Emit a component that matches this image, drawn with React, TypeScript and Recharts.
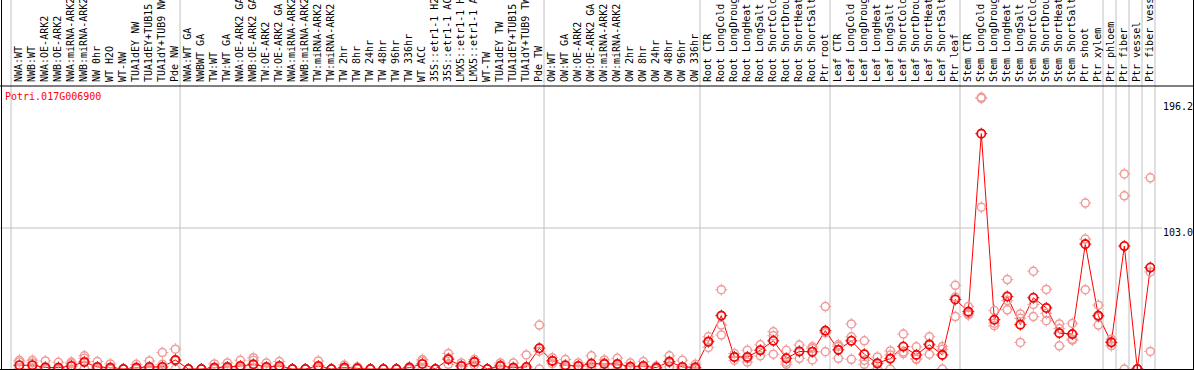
import React from "react"
import { ComposedChart, Line, XAxis, YAxis, ReferenceLine } from "recharts"

const CATEGORIES = [
  "NWA:WT", "NWB:WT", "NWA:OE-ARK2", "NWB:OE-ARK2", "NWA:miRNA-ARK2", "NWB:miRNA-ARK2",
  "NW 0hr", "WT H2O", "WT-NW", "TUA1dEY NW", "TUA1dEY+TUB15 NW", "TUA1dY+TUB9 NW", "Pde NW",
  "NWA:WT GA", "NWBWT GA", "TW:WT", "TW:WT GA", "NWA:OE-ARK2 GA", "NWB:OE-ARK2 GA",
  "TW:OE-ARK2", "TW:OE-ARK2 GA", "NWA:miRNA-ARK2 GA", "NWB:miRNA-ARK2 GA", "TW:miRNA-ARK2",
  "TW:miRNA-ARK2 GA", "TW 2hr", "TW 8hr", "TW 24hr", "TW 48hr", "TW 96hr", "TW 336hr", "WT ACC",
  "35S::etr1-1 H2O", "35S::etr1-1 ACC", "LMX5::etr1-1 H2O", "LMX5::etr1-1 ACC", "WT-TW",
  "TUA1dEY TW", "TUA1dEY+TUB15 TW", "TUA1dY+TUB9 TW", "Pde TW",
  "OW:WT", "OW:WT GA", "OW:OE-ARK2", "OW:OE-ARK2 GA", "OW:miRNA-ARK2", "OW:miRNA-ARK2 GA",
  "OW 2hr", "OW 8hr", "OW 24hr", "OW 48hr", "OW 96hr", "OW 336hr",
  "Root CTR", "Root LongCold", "Root LongDrought", "Root LongHeat", "Root LongSalt",
  "Root ShortCold", "Root ShortDrought", "Root ShortHeat", "Root ShortSalt", "Ptr root",
  "Leaf CTR", "Leaf LongCold", "Leaf LongDrought", "Leaf LongHeat", "Leaf LongSalt",
  "Leaf ShortCold", "Leaf ShortDrought", "Leaf ShortHeat", "Leaf ShortSalt", "Ptr leaf",
  "Stem CTR", "Stem LongCold", "Stem LongDrought", "Stem LongHeat", "Stem LongSalt",
  "Stem ShortCold", "Stem ShortDrought", "Stem ShortHeat", "Stem ShortSalt", "Ptr shoot",
  "Ptr xylem", "Ptr phloem", "Ptr fiber", "Ptr vessel", "Ptr fiber vessel",
]

// mean expression (dark circles joined by the line)
const MEAN = [
  2.7, 2.7, 1.2, 1.0, 2.2, 5.1, 1.5, 1.0, 0, 1.0, 1.5, 1.5, 6.6,
  0, 0, 1.0, 1.5, 2.2, 3.4, 1.5, 2.2, 0, 0, 2.2, 0, 1.0, 0.5, 0, 0, 0, 1.0, 3.7, 0, 7.1, 2.2, 5.1, 0, 2.2, 1.0, 1.5, 15.2,
  5.9, 2.7, 2.2, 3.9, 3.7, 3.7, 1.7, 2.2, 1.0, 5.4, 1.5, 1.2,
  19.9, 39.0, 8.8, 8.8, 13.7, 20.6, 7.8, 12.8, 12.6, 28.0,
  14.0, 20.6, 10.8, 4.2, 7.6, 16.4, 10.3, 17.7, 10.3, 50.8,
  41.9, 171.9, 36.0, 53.0, 32.4, 52.0, 44.6, 26.2, 25.5, 91.2, 39.0,
  19.4, 89.8, 0, 74.1,
]

// replicates (light circles)
const REP_A = [
  6.4, 6.4, 5.9, 4.9, 5.1, 9.6, 5.4, 3.7, 0, 3.4, 5.9, 12.0, 14.5,
  0, 0, 3.7, 4.4, 6.4, 8.3, 4.4, 5.4, 0, 0, 5.9, 0, 2.9, 1.5, 0, 0, 0, 1.5, 6.9, 0, 11.3, 4.4, 6.9, 0, 4.4, 4.4, 10.3, 32.1,
  8.3, 6.9, 4.4, 9.6, 6.6, 7.8, 4.4, 5.4, 2.2, 9.6, 6.4, 3.4,
  23.5, 57.9, 11.3, 13.7, 17.7, 27.2, 13.7, 17.5, 16.2, 45.6,
  17.7, 32.9, 20.6, 8.8, 13.2, 25.5, 16.2, 23.5, 16.4, 61.1,
  45.6, 198.4, 42.7, 65.3, 40.2, 71.4, 58.1, 32.9, 33.3, 121.2, 46.6,
  21.8, 142.5, 0, 139.6,
]
const REP_B = [
  5.2, 4.6, 0.5, 0, 4.0, 7.8, 0.5, 0, 0, 0.5, 0, 3.4, 6.0,
  0, 0, 0, 0.5, 1.0, 6.4, 0.5, 1.0, 0, 0, 1.0, 0, 0.5, 0, 0, 0, 0, 1.0, 5.9, 0, 8.0, 2.0, 5.5, 0, 3.0, 0, 0, 13.0,
  6.0, 1.5, 2.0, 2.0, 4.5, 3.0, 0.5, 1.0, 0.5, 5.0, 0, 0.5,
  20.5, 32.1, 8.8, 7.5, 13.7, 24.3, 5.0, 13.0, 15.0, 26.5,
  16.5, 23.5, 6.4, 3.5, 10.3, 11.3, 7.1, 18.5, 14.5, 52.5,
  40.5, 197.7, 33.5, 50.0, 37.0, 47.1, 40.7, 29.5, 21.8, 94.9, 38.0,
  20.0, 126.5, 0, 70.9,
]
const REP_C = [
  0.2, 0.3, 0, 0, 0, 0.4, 0, 0, 0, 0, 0, 0, 0,
  0, 0, 0, 0, 0, 0, 0, 0, 0, 0, 0, 0, 0, 0, 0, 0, 0, 0, 0, 0, 3.4, 0, 3.0, 0, 0, 0, 0, 0,
  3.9, 0, 0, 0, 0, 0, 0, 0, 0, 1.5, 0, 0,
  15.7, 24.8, 6.4, 5.1, 9.6, 10.8, 3.4, 7.8, 6.6, 12.6,
  7.8, 7.1, 3.4, 0, 0, 12.5, 7.5, 10.8, 0, 38.3,
  39.5, 118.2, 31.6, 43.2, 19.4, 38.3, 35.3, 16.9, 21.0, 57.9, 32.1,
  17.0, 0, 0, 12.8,
]

const Y_TICKS = [0, 103.0, 196.2]
// index of the last sample before each grey separator (-1 = left edge)
const GROUP_ENDS = [-1, 12, 40, 52, 62, 72, 83, 84, 85, 86, 87]

const W = 1194
const H = 370
const LABEL_H = 86
const AXIS_W = 39
const Y_MAX = 206.7
const X_DOMAIN: [number, number] = [-0.72, 87.36]
const Y_PAGE_TOP = (Y_MAX * (H - 1)) / (H - 1 - LABEL_H)
const X_PAGE_LEFT = -1.48
const X_PAGE_RIGHT = 90.4

const FONT = "'DejaVu Sans Mono', 'Liberation Mono', monospace"
const GRID = "#c0c0c0"
const RED = "#ff0000"
const PINK = "#f09a9a"

const rows = CATEGORIES.map((name, i) => ({
  i,
  name,
  mean: MEAN[i],
  a: REP_A[i],
  b: REP_B[i],
  c: REP_C[i],
}))

function Ring({ cx, cy, color, width }: { cx: number; cy: number; color: string; width: number }) {
  return (
    <g>
      <circle cx={cx} cy={cy} r={4} fill="none" stroke={color} strokeWidth={width} />
      <path
        d={`M${cx},${cy - 6}v1.5M${cx},${cy + 4.5}v1.5M${cx - 6},${cy}h1.5M${cx + 4.5},${cy}h1.5`}
        stroke={color}
        strokeWidth={1}
      />
    </g>
  )
}

const repDot = (p: any) => <Ring key={`r${p.index}-${p.dataKey}`} cx={p.cx} cy={p.cy} color={PINK} width={1.5} />
const meanDot = (p: any) => (
  <g key={`m${p.index}`}>
    <circle cx={p.cx} cy={p.cy} r={4.6} fill="none" stroke="#600000" strokeWidth={0.6} />
    <Ring cx={p.cx} cy={p.cy} color={RED} width={1.6} />
  </g>
)

function TopTick(props: any) {
  const { x, payload } = props
  return (
    <text
      transform={`translate(${x + 2.5},${LABEL_H - 4}) rotate(-90)`}
      fontFamily={FONT}
      fontSize={10}
      fill="#000"
    >
      {CATEGORIES[payload.value]}
    </text>
  )
}

function RightTick(props: any) {
  const { x, y, payload } = props
  const v = payload.value
  const dy = v === 0 ? -3 : v > 150 ? 10 : 8
  return (
    <text x={x} y={y + dy} fontFamily={FONT} fontSize={10} fill="#000" textAnchor="start">
      {v === 0 ? "0" : v.toFixed(1)}
    </text>
  )
}

export default function App() {
  return (
    <div style={{ position: "absolute", left: 0, top: 0, width: W, height: H, overflow: "hidden", background: "#fff" }}>
      <ComposedChart width={W} height={H} data={rows} margin={{ top: 0, right: 0, bottom: 1, left: 10 }}>
        <XAxis
          xAxisId="t"
          orientation="top"
          type="number"
          dataKey="i"
          domain={X_DOMAIN}
          allowDataOverflow
          ticks={rows.map((r) => r.i)}
          interval={0}
          tick={<TopTick />}
          tickLine={false}
          axisLine={false}
          height={LABEL_H}
        />
        <YAxis
          orientation="right"
          type="number"
          domain={[0, Y_MAX]}
          allowDataOverflow
          ticks={Y_TICKS}
          tick={<RightTick />}
          tickLine={false}
          tickSize={6}
          tickMargin={2}
          axisLine={false}
          width={AXIS_W}
        />
        {GROUP_ENDS.map((g) => (
          <ReferenceLine
            key={g}
            xAxisId="t"
            ifOverflow="visible"
            stroke={GRID}
            segment={[{ x: g + 0.36, y: 0 }, { x: g + 0.36, y: Y_PAGE_TOP }]}
          />
        ))}
        <ReferenceLine
          xAxisId="t"
          ifOverflow="visible"
          stroke={GRID}
          segment={[{ x: X_PAGE_LEFT, y: 103 }, { x: 87.9, y: 103 }]}
        />
        <ReferenceLine
          xAxisId="t"
          ifOverflow="visible"
          stroke="#000"
          segment={[{ x: X_PAGE_LEFT, y: Y_MAX }, { x: X_PAGE_RIGHT, y: Y_MAX }]}
        />
        <Line xAxisId="t" dataKey="a" stroke="none" dot={repDot} activeDot={false} isAnimationActive={false} />
        <Line xAxisId="t" dataKey="b" stroke="none" dot={repDot} activeDot={false} isAnimationActive={false} />
        <Line xAxisId="t" dataKey="c" stroke="none" dot={repDot} activeDot={false} isAnimationActive={false} />
        <Line
          xAxisId="t"
          dataKey="mean"
          stroke={RED}
          strokeWidth={1}
          dot={meanDot}
          activeDot={false}
          isAnimationActive={false}
        />
      </ComposedChart>
      <div style={{ position: "absolute", left: 1, top: 0, width: 1, height: H, background: "#000" }} />
      <div style={{ position: "absolute", left: W - 1, top: 0, width: 1, height: H, background: "#000" }} />
      <div style={{ position: "absolute", left: 0, top: H - 1, width: W, height: 1, background: "#000" }} />
      <div
        style={{
          position: "absolute",
          left: 5,
          top: 91,
          fontFamily: FONT,
          fontSize: 10,
          lineHeight: "12px",
          color: RED,
        }}
      >
        Potri.017G006900
      </div>
    </div>
  )
}
